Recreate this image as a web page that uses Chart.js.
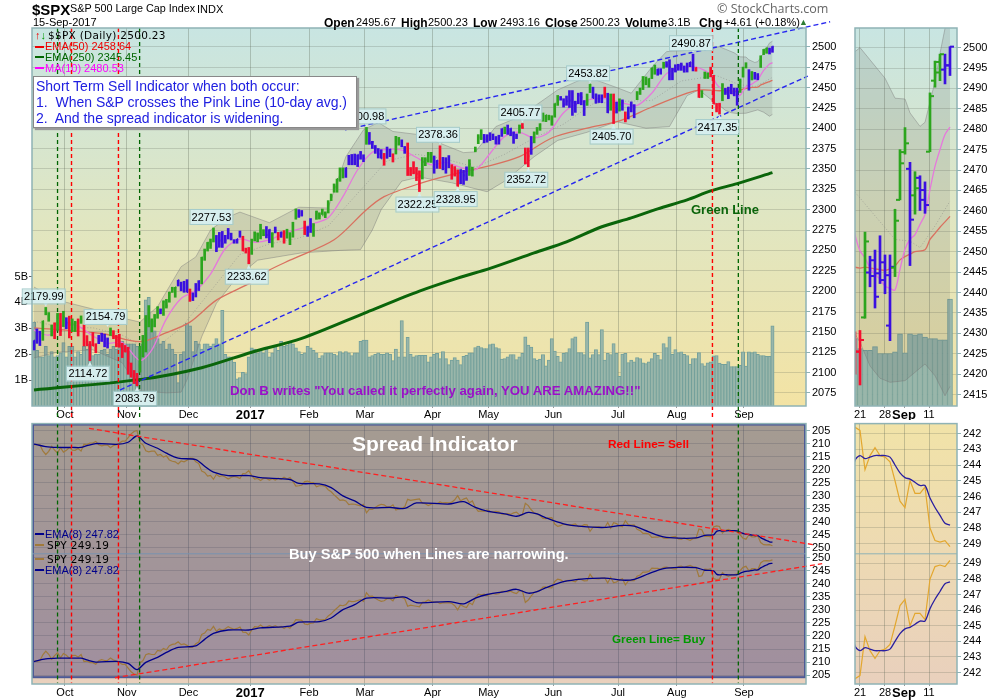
<!DOCTYPE html>
<html>
<head>
<meta charset="utf-8">
<title>$SPX</title>
<script src="https://cdn.jsdelivr.net/npm/chart.js@4/dist/chart.umd.min.js"></script>
<style>
html, body { margin: 0; padding: 0; background: #fff; overflow: hidden; }
body { width: 1000px; height: 700px; position: relative; font-family: "Liberation Sans", Arial, sans-serif; }
canvas { position: absolute; }
.t { position: absolute; white-space: pre; line-height: 1; font-size: 11px; color: #000; }
.b { font-weight: bold; font-size: 12px; }
.mk { position: absolute; width: 9px; height: 2px; }
#note { position: absolute; left: 33px; top: 76px; width: 324px; height: 52px; background: #fff; border: 1px solid #888;
  box-shadow: 2px 2px 1px #999; color: #2020e0; font-size: 14px; line-height: 16px; padding: 1px 0 0 2px; box-sizing: border-box; white-space: pre; }
</style>
</head>
<body>
<canvas id="mainChart" style="left:0;top:0" width="850" height="420"></canvas>
<canvas id="mainInset" style="left:850px;top:0" width="150" height="420"></canvas>
<canvas id="spreadChart" style="left:0;top:415px" width="850" height="285"></canvas>
<canvas id="spreadInset" style="left:850px;top:415px" width="150" height="285"></canvas>

<div class="t" style="left:32px;top:2px;font-size:15px;font-weight:bold">$SPX</div>
<div class="t" style="left:70px;top:3px;font-size:10.8px">S&amp;P 500 Large Cap Index</div>
<div class="t" style="left:197px;top:4px;font-size:11px">INDX</div>
<div class="t" style="left:33px;top:17px;font-size:11px">15-Sep-2017</div>
<div class="t" style="left:717px;top:3px;font-size:12.5px;color:#666;font-family:'Open Sans'">© StockCharts.com</div>

<div class="t b" style="left:324px;top:17px">Open</div><div class="t" style="left:356px;top:17px">2495.67</div>
<div class="t b" style="left:401px;top:17px">High</div><div class="t" style="left:428px;top:17px">2500.23</div>
<div class="t b" style="left:473px;top:17px">Low</div><div class="t" style="left:500px;top:17px">2493.16</div>
<div class="t b" style="left:545px;top:17px">Close</div><div class="t" style="left:580px;top:17px">2500.23</div>
<div class="t b" style="left:625px;top:17px">Volume</div><div class="t" style="left:668px;top:17px">3.1B</div>
<div class="t b" style="left:699px;top:17px">Chg</div><div class="t" style="left:724px;top:17px">+4.61 (+0.18%)</div>
<div class="t" style="left:799px;top:18px;font-size:9px;color:#2e7d32">▲</div>

<div class="t" style="left:35px;top:30px;font-size:11px;font-weight:bold;color:#e00">↑<span style="color:#090">↓</span></div>
<div class="t" style="left:48px;top:30px;font-family:'DejaVu Sans';font-size:10.5px;letter-spacing:.3px">$$PX (Daily) 2500.23</div>
<div class="mk" style="left:35px;top:46px;background:#e00"></div><div class="t" style="left:45px;top:41px;color:#e00">EMA(50) 2458.64</div>
<div class="mk" style="left:35px;top:56px;background:#060"></div><div class="t" style="left:45px;top:52px;color:#060">EMA(250) 2345.45</div>
<div class="mk" style="left:35px;top:67px;background:#f0f"></div><div class="t" style="left:45px;top:63px;color:#f0f">MA(10) 2480.53</div>
<div id="note">Short Term Sell Indicator when both occur:
1.  When S&amp;P crosses the Pink Line (10-day avg.)
2.  And the spread indicator is widening.</div>

<div class="t" style="left:691px;top:203px;font-size:13px;font-weight:bold;color:#0a640a">Green Line</div>
<div class="t" style="left:230px;top:384px;font-size:13.2px;font-weight:bold;color:#9a10c8">Don B writes "You called it perfectly again, YOU ARE AMAZING!!"</div>

<div class="t" style="left:352px;top:433px;font-size:21px;font-weight:bold;color:#fff">Spread Indicator</div>
<div class="t" style="left:608px;top:439px;font-size:11.8px;font-weight:bold;color:#f00">Red Line= Sell</div>
<div class="t" style="left:289px;top:547px;font-size:14.7px;font-weight:bold;color:#fff">Buy S&amp;P 500 when Lines are narrowing.</div>
<div class="t" style="left:612px;top:633px;font-size:11.7px;font-weight:bold;color:#090">Green Line= Buy</div>

<div class="mk" style="left:35px;top:533px;background:#00008b"></div><div class="t" style="left:45px;top:529px;color:#00008b">EMA(8) 247.82</div>
<div class="mk" style="left:35px;top:544px;background:#a07a3c"></div><div class="t" style="left:47px;top:540px;font-family:'DejaVu Sans';font-size:10.5px;letter-spacing:.3px">SPY 249.19</div>
<div class="mk" style="left:35px;top:558px;background:#a07a3c"></div><div class="t" style="left:47px;top:554px;font-family:'DejaVu Sans';font-size:10.5px;letter-spacing:.3px">SPY 249.19</div>
<div class="mk" style="left:35px;top:569px;background:#00008b"></div><div class="t" style="left:45px;top:565px;color:#00008b">EMA(8) 247.82</div>

<script>
// daily bars, Sep 16 2016 to Sep 15 2017, one line per month
var highs = [
    2139.2, 2153.6, 2150.8, 2163.3, 2179.99, 2173.7, 2158.5, 2161.1, 2172.7, 2172.7, 2175.3,
    2167.4, 2169.3, 2165.9, 2162.9, 2165.9, 2169.6, 2158.6, 2145.4, 2138.2, 2149.2, 2135.5, 2145.7, 2148.4, 2147.2, 2142.6, 2154.79, 2151.5, 2145.7, 2147.1, 2136.0, 2133.3,
    2131.1, 2111.8, 2102.6, 2099.1, 2132.0, 2145.7, 2170.1, 2182.3, 2166.0, 2171.4, 2180.8, 2178.2, 2188.1, 2189.9, 2198.7, 2204.8, 2204.7, 2213.4, 2211.1, 2212.1, 2214.1,
    2202.6, 2197.9, 2209.4, 2212.8, 2241.6, 2251.7, 2259.8, 2264.0, 2277.53, 2268.4, 2272.1, 2273.3, 2268.5, 2277.0, 2271.2, 2263.2, 2263.8, 2273.8, 2267.4, 2252.8, 2253.6,
    2263.9, 2272.8, 2271.5, 2282.1, 2275.5, 2279.3, 2275.5, 2271.8, 2278.7, 2272.1, 2272.6, 2274.3, 2276.0, 2271.8, 2284.6, 2300.9, 2300.0, 2299.0, 2286.0, 2279.1,
    2289.1, 2283.0, 2298.3, 2296.2, 2300.7, 2297.3, 2311.1, 2319.2, 2331.6, 2337.6, 2351.3, 2351.3, 2351.3, 2366.7, 2367.8, 2368.3, 2367.3, 2371.5, 2367.4,
    2400.98, 2394.8, 2383.9, 2378.8, 2375.1, 2373.6, 2369.1, 2376.9, 2374.4, 2368.6, 2390.0, 2388.7, 2385.7, 2377.6, 2381.9, 2351.8, 2358.9, 2351.8, 2347.7, 2364.0, 2363.8, 2370.4, 2370.4,
    2365.9, 2360.5, 2378.36, 2364.2, 2363.8, 2366.4, 2355.2, 2352.9, 2348.9, 2349.1, 2348.3, 2352.6, 2361.4, 2352.2, 2376.9, 2392.1, 2398.2, 2392.4, 2392.1,
    2394.5, 2392.9, 2389.8, 2391.4, 2399.3, 2401.4, 2403.9, 2399.7, 2395.5, 2392.9, 2404.0, 2405.77, 2375.7, 2375.7, 2389.9, 2395.5, 2400.9, 2405.6, 2418.7, 2416.0, 2416.0, 2415.3,
    2430.1, 2440.2, 2439.0, 2436.2, 2439.5, 2446.2, 2446.2, 2433.2, 2443.0, 2443.8, 2433.9, 2442.0, 2453.82, 2450.4, 2442.2, 2441.0, 2441.0, 2450.4, 2442.9, 2442.0, 2442.0, 2432.0,
    2436.1, 2434.8, 2420.0, 2426.0, 2432.3, 2429.0, 2445.0, 2449.3, 2463.5, 2462.9, 2460.9, 2473.8, 2477.6, 2472.5, 2473.1, 2481.0, 2481.7, 2484.0, 2473.5, 2477.9,
    2478.5, 2480.0, 2476.4, 2480.0, 2480.9, 2490.87, 2474.4, 2454.0, 2446.2, 2469.0, 2468.0, 2474.9, 2465.0, 2430.4, 2430.7, 2454.8, 2448.9, 2450.4, 2453.9, 2449.2, 2449.2, 2460.4, 2475.0,
    2480.4, 2471.9, 2469.6, 2468.6, 2467.1, 2488.9, 2496.7, 2498.4, 2498.4, 2500.23
];
var lows = [
    2127.8, 2135.9, 2133.2, 2139.6, 2170.9, 2163.0, 2145.0, 2141.6, 2151.8, 2145.4, 2156.5,
    2153.8, 2142.6, 2150.3, 2150.3, 2144.9, 2160.4, 2132.8, 2132.8, 2114.72, 2132.98, 2124.4, 2135.5, 2138.2, 2131.6, 2130.1, 2145.5, 2141.6, 2131.6, 2131.1, 2118.4, 2125.3,
    2097.9, 2094.4, 2086.5, 2083.79, 2100.6, 2119.1, 2125.3, 2156.1, 2149.9, 2156.1, 2166.7, 2172.2, 2170.2, 2179.2, 2186.4, 2198.4, 2192.5, 2206.3, 2200.4, 2198.6, 2198.8,
    2187.4, 2188.4, 2192.8, 2200.7, 2208.9, 2237.8, 2249.2, 2252.4, 2260.3, 2248.4, 2253.8, 2253.6, 2258.8, 2264.0, 2262.8, 2258.8, 2258.8, 2266.1, 2249.4, 2246.7, 2233.62,
    2245.1, 2261.6, 2260.5, 2264.1, 2268.0, 2265.3, 2259.4, 2254.0, 2271.5, 2262.8, 2266.0, 2258.8, 2265.0, 2257.0, 2266.2, 2288.3, 2290.5, 2292.1, 2269.4, 2267.2,
    2272.0, 2267.2, 2288.1, 2288.5, 2294.1, 2290.2, 2295.9, 2311.1, 2321.4, 2321.4, 2334.8, 2338.9, 2339.6, 2355.1, 2355.1, 2355.1, 2352.9, 2361.9, 2358.9,
    2380.2, 2380.2, 2375.1, 2369.1, 2363.4, 2363.1, 2354.5, 2363.0, 2365.0, 2358.5, 2368.3, 2379.2, 2377.1, 2369.1, 2341.9, 2341.9, 2344.0, 2335.7, 2322.25, 2337.6, 2354.0, 2358.3, 2358.0,
    2344.7, 2350.7, 2350.5, 2348.9, 2344.7, 2351.5, 2337.3, 2341.2, 2328.95, 2331.9, 2331.0, 2335.9, 2342.0, 2341.2, 2371.0, 2381.0, 2386.0, 2382.0, 2382.8,
    2384.8, 2385.9, 2380.4, 2380.4, 2389.9, 2393.3, 2392.4, 2390.7, 2381.4, 2387.2, 2393.9, 2399.7, 2356.2, 2352.72, 2367.9, 2382.0, 2392.4, 2397.4, 2408.5, 2408.0, 2410.1, 2403.6,
    2413.5, 2428.0, 2434.4, 2425.9, 2428.1, 2425.4, 2415.7, 2419.4, 2430.0, 2428.7, 2415.5, 2428.0, 2443.7, 2437.0, 2430.6, 2431.5, 2431.3, 2437.7, 2419.0, 2422.0, 2405.70, 2418.6,
    2421.0, 2422.0, 2407.7, 2411.3, 2420.0, 2412.8, 2435.0, 2441.4, 2447.4, 2453.3, 2450.3, 2460.9, 2466.2, 2465.0, 2466.3, 2473.6, 2474.9, 2459.3, 2459.4, 2468.9,
    2471.1, 2471.0, 2468.7, 2468.9, 2475.5, 2470.3, 2470.0, 2437.8, 2437.7, 2461.0, 2461.0, 2463.0, 2430.0, 2420.0, 2417.35, 2433.7, 2441.4, 2436.2, 2442.2, 2439.7, 2428.2, 2443.9, 2462.7,
    2473.9, 2446.6, 2459.2, 2460.1, 2459.4, 2474.5, 2490.3, 2491.9, 2491.1, 2493.16
];
var closes = [
    2139.16, 2139.12, 2139.76, 2163.12, 2177.18, 2164.69, 2146.10, 2159.93, 2171.37, 2151.13, 2168.27,
    2161.20, 2150.49, 2159.73, 2160.77, 2153.74, 2163.66, 2136.73, 2139.18, 2132.55, 2132.98, 2126.50, 2139.60, 2144.29, 2141.34, 2141.16, 2151.33, 2143.16, 2139.43, 2133.04, 2126.41, 2126.15,
    2111.72, 2097.94, 2088.66, 2085.18, 2131.52, 2139.56, 2163.26, 2167.48, 2164.45, 2164.20, 2180.39, 2176.94, 2187.12, 2181.90, 2198.18, 2202.94, 2204.72, 2213.35, 2201.72, 2204.66, 2198.81,
    2191.08, 2191.95, 2204.71, 2212.23, 2241.35, 2246.19, 2259.53, 2256.96, 2271.72, 2253.28, 2262.03, 2258.07, 2262.53, 2270.76, 2265.18, 2260.96, 2263.79, 2268.88, 2249.92, 2249.26, 2238.83,
    2257.83, 2270.75, 2269.00, 2276.98, 2268.90, 2268.90, 2275.32, 2270.44, 2274.64, 2267.89, 2271.89, 2263.69, 2271.31, 2265.20, 2280.07, 2298.37, 2296.68, 2294.69, 2280.90, 2278.87,
    2279.55, 2280.85, 2297.42, 2292.56, 2293.08, 2294.67, 2307.87, 2316.10, 2328.25, 2337.58, 2349.25, 2347.22, 2351.16, 2365.38, 2362.82, 2363.81, 2367.34, 2369.75, 2363.64,
    2395.96, 2381.92, 2383.12, 2375.31, 2368.39, 2362.98, 2364.87, 2372.60, 2373.47, 2365.45, 2385.26, 2381.38, 2378.25, 2373.47, 2344.02, 2348.45, 2345.96, 2343.98, 2341.59, 2358.57, 2361.13, 2368.06, 2362.72,
    2358.84, 2360.16, 2352.95, 2357.49, 2355.54, 2357.16, 2353.78, 2344.93, 2328.95, 2349.01, 2342.19, 2338.17, 2355.84, 2348.69, 2374.15, 2388.61, 2387.45, 2388.77, 2384.20,
    2388.33, 2391.17, 2388.13, 2389.52, 2399.29, 2399.38, 2396.92, 2399.63, 2394.44, 2390.90, 2402.32, 2400.67, 2357.03, 2365.72, 2381.73, 2394.02, 2398.42, 2404.39, 2415.07, 2415.82, 2412.91, 2411.80,
    2430.06, 2439.07, 2436.10, 2429.33, 2433.14, 2433.79, 2431.77, 2429.39, 2440.35, 2437.92, 2432.46, 2433.15, 2453.46, 2437.03, 2435.61, 2434.50, 2438.30, 2439.07, 2419.38, 2440.69, 2419.70, 2423.41,
    2429.01, 2432.54, 2409.75, 2425.18, 2427.43, 2425.53, 2443.25, 2447.83, 2459.27, 2459.14, 2460.61, 2473.83, 2473.45, 2472.54, 2469.91, 2477.13, 2477.83, 2475.42, 2472.10, 2470.30,
    2476.35, 2477.57, 2472.16, 2476.83, 2480.91, 2474.92, 2474.02, 2438.21, 2441.32, 2465.84, 2464.61, 2468.11, 2430.01, 2425.55, 2428.37, 2452.51, 2444.04, 2438.97, 2443.05, 2444.24, 2446.30, 2457.59, 2471.65,
    2476.55, 2457.85, 2465.54, 2465.10, 2461.43, 2488.11, 2496.48, 2498.37, 2495.62, 2500.23
];
// bar colour per day, g green, b blue, r red
var barColors = "bbbggggrgrg" +
    "brggrgrrrrr" + "bbbbgrrrrr" +
    "rrrr" + "ggggggg" + "b" + "ggggg" + "bbbb" +
    "rbbbggggg" + "bbbbbbbbb" + "rrr" +
    "gggggbbgbrbrggggbbrb" +
    "bggggggggggg" + "bbbbbbb" +
    "gbbbbbrbbrggbbrrrrrgggg" +
    "bbrbbbrrrbbbgggggbb" +
    "bbbbbgbbbbgrrrbggggggg" +
    "ggbbbbbbbbbggbbbbrbgrb" +
    "gbrbbbgggggggbbgbbbb" +
    "bbbbbbrrgggrrrrgbbbbbgg" +
    "gbgbbgggbb";
var volumes = [
    3.24, 2.15, 1.90, 1.90, 2.30, 1.95, 2.10, 1.90, 1.95, 2.05, 2.45,
    1.90, 2.30, 2.30, 1.90, 2.10, 2.00, 2.30, 2.20, 2.40, 1.95, 2.00, 2.00, 2.15, 2.20, 2.00, 2.20, 2.30, 2.20, 2.50, 2.50, 2.40,
    2.40, 2.40, 2.40, 2.30, 2.30, 2.40, 4.10, 4.20, 3.30, 2.90, 2.60, 2.40, 2.50, 2.20, 2.40, 2.20, 2.00, 0.90, 2.00, 2.10, 3.20,
    3.10, 2.10, 2.50, 2.40, 2.20, 2.40, 2.40, 2.30, 2.40, 2.60, 2.40, 3.70, 2.00, 1.90, 1.90, 1.70, 1.05, 1.10, 1.30, 1.25, 1.90,
    2.25, 2.20, 2.05, 2.20, 2.05, 2.20, 1.90, 2.05, 2.35, 2.15, 2.50, 2.30, 2.35, 2.50, 2.40, 2.25, 2.10, 2.00, 2.05, 2.30,
    2.25, 2.15, 2.05, 1.85, 1.95, 2.05, 2.05, 2.05, 2.00, 1.95, 2.10, 2.05, 2.10, 2.05, 1.95, 2.05, 2.05, 2.50, 2.55,
    2.55, 1.90, 1.95, 2.00, 2.05, 2.00, 2.00, 2.05, 2.00, 1.75, 2.20, 1.90, 3.30, 1.90, 2.65, 2.00, 1.90, 1.95, 1.96, 1.96, 1.96, 1.71, 1.90,
    2.00, 2.03, 1.83, 2.10, 1.83, 1.60, 1.77, 1.87, 1.77, 1.60, 1.92, 1.96, 2.05, 2.05, 2.26, 2.31, 2.26, 2.22, 2.22,
    2.37, 2.40, 2.26, 2.22, 1.81, 1.83, 1.90, 1.99, 1.99, 1.79, 1.90, 2.03, 2.67, 2.35, 2.28, 1.83, 1.77, 1.81, 1.99, 1.55, 1.77, 2.60,
    2.12, 1.92, 1.71, 2.03, 2.06, 2.22, 2.60, 2.67, 2.06, 2.06, 1.99, 3.24, 1.86, 1.99, 2.18, 1.99, 2.95, 1.77, 2.03, 1.99, 2.41, 2.03,
    1.15, 2.01, 2.03, 1.68, 1.77, 1.71, 1.87, 1.83, 1.67, 1.64, 1.71, 1.83, 2.03, 1.96, 1.79, 2.41, 2.26, 2.67, 2.00, 2.18,
    2.06, 2.09, 2.00, 1.95, 1.62, 1.83, 1.83, 2.06, 1.64, 1.55, 1.67, 1.71, 1.94, 1.95, 1.66, 1.61, 1.61, 1.72, 1.52, 1.52, 1.52, 1.57, 2.09,
    1.54, 2.09, 2.06, 2.09, 2.00, 1.95, 1.95, 1.92, 1.92, 3.10
];
// the overlays were read at these days
var ma10Days = [0, 5, 10, 15, 20, 25, 30, 36, 40, 45, 50, 55, 60, 65, 70, 75, 80, 85, 90, 95, 100, 105, 110, 115, 120, 125, 130, 135, 140, 145, 150, 155, 160, 165, 170, 175, 180, 185, 190, 195, 200, 205, 210, 215, 220, 225, 230, 232, 233, 234, 235, 236, 237, 238, 239, 240, 241, 242, 243, 244, 245, 246, 247, 248, 249, 250, 251];
var ma10Vals = [2152, 2146, 2158, 2157, 2145, 2136, 2137, 2115, 2127.6, 2166, 2191, 2201, 2221, 2252, 2264, 2260, 2263, 2271, 2276, 2283, 2290, 2316, 2349, 2370.5, 2374, 2373, 2364, 2355, 2358, 2352, 2349, 2369, 2390, 2395, 2388, 2395, 2419, 2431, 2436, 2436, 2431, 2428, 2443, 2467, 2474, 2475, 2466, 2454.2, 2450.2, 2448.5, 2446, 2444.5, 2443.2, 2441.6, 2441, 2440.6, 2445.7, 2450.6, 2453, 2454.2, 2456.7, 2459.1, 2465.2, 2470.9, 2475, 2478.7, 2480.53];
var ema50Days = [0, 23, 36, 45, 53, 62, 74, 79, 87, 102, 113, 119, 131, 142, 154, 165, 176, 188, 199, 210, 222, 227, 233, 234, 235, 236, 237, 238, 239, 240, 241, 242, 243, 244, 246, 247, 248, 249, 250, 251];
var ema50Vals = [2155, 2148, 2138, 2149, 2162, 2189, 2211, 2224, 2238, 2263, 2300, 2316, 2332, 2343, 2353, 2365, 2388, 2400, 2409, 2426, 2443, 2447, 2446, 2446.2, 2446, 2445.8, 2445.6, 2445.4, 2445.8, 2446.5, 2448, 2448.8, 2449.4, 2450, 2450.5, 2453, 2454.5, 2456, 2457.3, 2458.64];
var ema250Days = [0, 37, 57, 74, 91, 113, 131, 144, 155, 170, 181, 193, 203, 212, 222, 230, 239, 251];
var ema250Vals = [2078.6, 2092, 2106, 2125, 2142, 2174, 2200, 2216, 2228, 2247, 2260.5, 2279, 2290, 2301, 2312, 2323, 2332, 2345.45];
var bbUpperDays = [0, 8, 20, 30, 36, 42, 50, 55, 60, 66, 70, 80, 90, 100, 106, 112, 117, 122, 131, 137, 146, 150, 157, 165, 178, 188, 198, 203, 210, 215, 224, 232, 233, 235, 238, 240, 242, 243, 245, 246, 248, 249, 250, 251];
var bbUpperVals = [2205, 2189, 2178, 2167, 2162, 2181, 2230, 2242, 2275, 2291, 2297, 2284, 2303, 2302, 2365, 2398, 2407, 2396, 2392, 2383, 2370, 2371, 2402, 2414, 2447, 2463, 2450, 2443, 2475, 2494, 2496, 2499, 2500, 2497, 2492.5, 2487.6, 2487.4, 2484, 2480.7, 2481.7, 2491.7, 2498.6, 2504.7, 2506.8];
var bbLowerDays = [0, 8, 20, 30, 36, 45, 50, 52, 57, 62, 69, 76, 91, 104, 111, 115, 118, 125, 131, 142, 154, 160, 170, 178, 188, 198, 208, 216, 222, 226, 232, 233, 235, 237, 239, 242, 246, 248, 250, 251];
var bbLowerVals = [2118, 2125, 2128, 2112, 2078, 2075, 2076, 2091, 2144, 2185, 2217, 2238, 2247, 2250, 2251, 2275, 2300, 2335, 2340, 2333, 2322, 2335, 2365, 2385, 2395, 2408, 2400, 2402, 2440, 2447, 2429.8, 2427.8, 2422, 2419, 2418, 2418.4, 2422.5, 2419.6, 2414.7, 2417];
var bbMidDays = [0, 10, 20, 30, 40, 50, 60, 70, 80, 90, 100, 110, 120, 130, 140, 150, 160, 170, 180, 190, 200, 210, 220, 232, 240, 243, 245, 248, 251];
var bbMidVals = [2163, 2155, 2155, 2146, 2126, 2155, 2200, 2245, 2258, 2265, 2280, 2320, 2360, 2368, 2362, 2352, 2368, 2388, 2405, 2430, 2433, 2434, 2458, 2464.6, 2453, 2452.6, 2451, 2456.3, 2462.4];
var insetOpens = [2425.5, 2433.9, 2444.9, 2447.9, 2444.7, 2447.4, 2431.9, 2446.1, 2462.7, 2474.4, 2470.3, 2463.8, 2468.1, 2462.7, 2474.5, 2491.9, 2493.9, 2494.6, 2495.67];
var insetFirstDay = 233;

var spyVals = [
    210.4, 210.4, 210.5, 212.8, 214.2, 213.0, 211.1, 212.5, 213.6, 211.6, 213.3,
    212.6, 211.5, 212.5, 212.6, 211.9, 212.9, 210.2, 210.4, 209.8, 209.8, 209.2, 210.5, 210.9, 210.6, 210.6, 211.6, 210.8, 210.4, 209.8, 209.1, 209.1,
    207.7, 206.3, 205.4, 205.0, 209.7, 210.5, 212.8, 213.2, 212.9, 212.9, 214.5, 214.2, 215.2, 214.7, 216.3, 216.8, 217.0, 217.8, 216.7, 217.0, 216.4,
    215.6, 215.7, 217.0, 217.7, 220.6, 221.1, 222.5, 222.2, 223.7, 221.8, 222.7, 222.3, 222.8, 223.6, 223.0, 222.6, 222.9, 223.4, 221.5, 221.4, 220.4,
    222.3, 223.6, 223.4, 224.2, 223.4, 223.4, 224.0, 223.5, 224.0, 223.3, 223.7, 222.9, 223.6, 223.0, 224.5, 226.3, 226.2, 226.0, 224.6, 224.4,
    224.9, 225.0, 226.6, 226.2, 226.2, 226.4, 227.7, 228.5, 229.7, 230.7, 231.8, 231.6, 232.0, 233.4, 233.2, 233.3, 233.6, 233.9, 233.3,
    236.6, 235.2, 235.3, 234.5, 233.8, 233.3, 233.5, 234.3, 234.3, 233.5, 235.5, 235.1, 234.8, 234.3, 231.4, 231.8, 231.6, 231.4, 231.2, 232.9, 233.1, 233.8, 233.3,
    233.0, 233.1, 232.4, 232.8, 232.7, 232.8, 232.5, 231.6, 230.0, 232.0, 231.3, 230.9, 232.7, 232.0, 234.5, 236.0, 235.8, 236.0, 235.5,
    236.0, 236.3, 236.0, 236.2, 237.1, 237.1, 236.9, 237.2, 236.6, 236.3, 237.4, 237.3, 232.9, 233.8, 235.4, 236.6, 237.0, 237.6, 238.7, 238.8, 238.5, 238.4,
    240.9, 241.8, 241.5, 240.8, 241.2, 241.3, 241.1, 240.8, 241.9, 241.7, 241.1, 241.2, 243.7, 242.1, 242.0, 241.9, 242.2, 242.3, 240.3, 242.5, 240.4, 240.7,
    241.5, 241.9, 239.6, 241.1, 241.3, 241.2, 242.9, 243.4, 244.5, 244.5, 244.7, 246.0, 245.9, 245.9, 245.6, 246.3, 246.4, 246.1, 245.8, 245.6,
    246.6, 246.8, 246.2, 246.7, 247.1, 246.5, 246.4, 242.8, 243.1, 245.6, 245.5, 245.8, 242.0, 241.6, 241.8, 244.3, 243.4, 242.9, 243.4, 243.5, 243.8, 245.0, 246.3,
    246.7, 245.0, 245.8, 245.8, 245.4, 248.0, 248.8, 248.9, 248.8, 249.19
];
var ema8Days = [0, 4, 8, 13, 16, 18, 21, 28, 32, 35, 38, 42, 45, 49, 55, 58, 61, 66, 73, 77, 87, 90, 97, 101, 105, 109, 113, 121, 126, 130, 141, 146, 150, 154, 160, 164, 168, 171, 174, 180, 186, 194, 200, 204, 209, 214, 219, 225, 228, 231, 232, 233, 234, 235, 236, 237, 238, 239, 240, 241, 242, 243, 244, 245, 246, 247, 248, 249, 250, 251];
var ema8Vals = [210.2, 211.2, 211.5, 211.5, 211.5, 210.8, 210, 210.3, 209.5, 207.1, 209.9, 211.8, 213.7, 215.6, 216.2, 218.7, 221, 222.3, 222.3, 223.1, 223.8, 225.3, 225.5, 226.9, 230.1, 232, 234.5, 234.5, 234.9, 232.8, 233.2, 232.3, 234.5, 235.9, 237, 237.9, 236.4, 237, 238.5, 240.8, 241.8, 242.2, 241.4, 241.7, 243.9, 245.8, 246.3, 246.2, 245.2, 245, 243.7, 243.4, 243.6, 243.5, 243.4, 243.4, 243.4, 243.5, 244, 244.5, 244.8, 244.9, 245.1, 245.3, 245.3, 246.1, 246.7, 247.2, 247.7, 247.82];

var monthTicks = [10.5, 31.5, 52.5, 73.5, 93.5, 112.5, 135.5, 154.5, 176.5, 198.5, 218.5, 241.3];
var monthLabels = ["Oct", "Nov", "Dec", "2017", "Feb", "Mar", "Apr", "May", "Jun", "Jul", "Aug", "Sep"];
var insetTicks = [233, 238, 241.8, 246.8];
var insetLabels = ["21", "28", "Sep", "11"];
var priceTicks = [2075, 2100, 2125, 2150, 2175, 2200, 2225, 2250, 2275, 2300, 2325, 2350, 2375, 2400, 2425, 2450, 2475, 2500];
var insetPriceTicks = [2415, 2420, 2425, 2430, 2435, 2440, 2445, 2450, 2455, 2460, 2465, 2470, 2475, 2480, 2485, 2490, 2495, 2500];
var volumeTicks = [1, 2, 3, 4, 5];
var spreadTicks = [205, 210, 215, 220, 225, 230, 235, 240, 245, 250];
var spreadInsetTicks = [242, 243, 244, 245, 246, 247, 248, 249];

// pivot labels: day, value, 1 = above the bar, -1 = below
var pivotDays = [4, 19, 25, 35, 61, 73, 113, 131, 138, 144, 166, 168, 189, 197, 224, 233];
var pivotVals = [2179.99, 2114.72, 2154.79, 2083.79, 2277.53, 2233.62, 2400.98, 2322.25, 2378.36, 2328.95, 2405.77, 2352.72, 2453.82, 2405.70, 2490.87, 2417.35];
var pivotSides = [1, -1, 1, -1, 1, -1, 1, -1, 1, -1, 1, -1, 1, -1, 1, -1];

var redDays = [12.75, 28.7, 230.6];
var greenDays = [8, 35.9, 239.4];

const FONT = '"Liberation Sans", Arial, sans-serif';
const COLORS = { g: "#2ca51e", b: "#3a10e0", r: "#f5102f" };
const GRID = "rgba(85,95,80,0.22)";
const FRAME = "#8fb3b5";

function pts(days, vals) {
    return days.map((d, i) => ({ x: d, y: vals[i] }));
}
function allDays(vals) {
    return vals.map((v, i) => ({ x: i, y: v }));
}
function lineSet(data, color, width, yAxisID, order, extra) {
    return Object.assign({
        type: "line", data: data, borderColor: color, borderWidth: width, pointRadius: 0,
        tension: 0, fill: false, yAxisID: yAxisID, order: order
    }, extra || {});
}
function dashed(days, vals, color, width, yAxisID, dash) {
    return lineSet(pts(days, vals), color, width, yAxisID, 1, { borderDash: dash || [5, 3], clip: false });
}

function backgroundPlugin(stops) {
    return {
        id: "panelBackground",
        beforeDraw: function (chart) {
            var a = chart.chartArea;
            var g = chart.ctx.createLinearGradient(0, a.top, 0, a.bottom);
            stops.forEach((s, i) => g.addColorStop(i / (stops.length - 1), s));
            chart.ctx.fillStyle = g;
            chart.ctx.fillRect(a.left, a.top, a.right - a.left, a.bottom - a.top);
        }
    };
}
var framePlugin = {
    id: "panelFrame",
    afterDraw: function (chart) {
        var a = chart.chartArea;
        chart.ctx.strokeStyle = FRAME;
        chart.ctx.lineWidth = 1.5;
        chart.ctx.strokeRect(a.left, a.top, a.right - a.left, a.bottom - a.top);
    }
};
// open and close ticks on the bars, open only where we have it
function ohlcPlugin(tickLen, useOpens) {
    return {
        id: "ohlcTicks",
        afterDatasetsDraw: function (chart) {
            var x = chart.scales.x, y = chart.scales.y, ctx = chart.ctx, a = chart.chartArea;
            ctx.save();
            ctx.beginPath();
            ctx.rect(a.left, a.top, a.right - a.left, a.bottom - a.top);
            ctx.clip();
            closes.forEach((c, i) => {
                if (i < x.min - 1) return;
                ctx.fillStyle = COLORS[barColors[i]];
                ctx.fillRect(x.getPixelForValue(i), y.getPixelForValue(c) - 1, tickLen + 1, 2);
                if (useOpens && i >= insetFirstDay) {
                    ctx.fillRect(x.getPixelForValue(i) - tickLen - 1, y.getPixelForValue(insetOpens[i - insetFirstDay]) - 1, tickLen + 1, 2);
                }
            });
            ctx.restore();
        }
    };
}
var pivotPlugin = {
    id: "pivotLabels",
    afterDatasetsDraw: function (chart) {
        var x = chart.scales.x, y = chart.scales.y, ctx = chart.ctx;
        ctx.save();
        ctx.font = "11px " + FONT;
        ctx.textAlign = "center";
        ctx.textBaseline = "middle";
        pivotDays.forEach((d, i) => {
            var px = x.getPixelForValue(d), py = y.getPixelForValue(pivotVals[i]);
            var side = pivotSides[i];
            var cy = py - side * (side > 0 ? 11 : 13);
            ctx.fillStyle = "#d6eeee";
            ctx.beginPath();
            ctx.moveTo(px, py - side);
            ctx.lineTo(px - 6, cy);
            ctx.lineTo(px + 6, cy);
            ctx.fill();
            ctx.fillRect(px - 23, cy - 7, 42, 14);
            ctx.strokeStyle = "#a5cccc";
            ctx.lineWidth = 1;
            ctx.strokeRect(px - 23.5, cy - 7.5, 43, 15);
            ctx.fillStyle = "#000";
            ctx.fillText(pivotVals[i].toFixed(2), px - 2, cy + 0.5);
        });
        ctx.restore();
    }
};
// the see-through box over the spread panel, with its floor on the lower axis
var tintPlugin = {
    id: "spreadTint",
    beforeDatasetsDraw: function (chart) {
        var a = chart.chartArea, ctx = chart.ctx;
        var floor = chart.scales.yBot.getPixelForValue(204.2);
        ctx.fillStyle = "rgba(35,32,109,0.37)";
        ctx.fillRect(a.left, a.top, a.right - a.left, floor - a.top);
        ctx.strokeStyle = "#4d5a96";
        ctx.lineWidth = 2;
        ctx.strokeRect(a.left + 1, a.top + 1, a.right - a.left - 2, floor - a.top - 1);
    }
};

function xAxis(min, max, ticks, labels, boldLabel, height) {
    return {
        type: "linear", min: min, max: max, offset: false,
        afterBuildTicks: function (axis) { axis.ticks = ticks.map(v => ({ value: v })); },
        afterFit: function (axis) { axis.height = height; },
        grid: { offset: false, color: "rgba(85,95,80,0.3)", drawTicks: true, tickLength: 2, tickColor: "#999" },
        border: { display: false },
        ticks: {
            autoSkip: false, maxRotation: 0, padding: 0, color: "#000",
            callback: function (v, i) { return labels[i]; },
            font: function (c) {
                var bold = labels[c.index] === boldLabel;
                return { family: FONT, size: bold ? 13 : 11, weight: bold ? "bold" : "normal" };
            }
        }
    };
}
function yAxis(position, min, max, ticks, width, extra) {
    return Object.assign({
        type: "linear", position: position, min: min, max: max,
        afterBuildTicks: function (axis) { axis.ticks = ticks.map(v => ({ value: v })); },
        afterFit: function (axis) { axis.width = width; },
        grid: { color: GRID, tickLength: 4, tickColor: FRAME },
        border: { display: false },
        ticks: { autoSkip: false, padding: 2, color: "#000", font: { family: FONT, size: 11 }, callback: v => String(v) }
    }, extra || {});
}
function priceDatasets(barWidth, volBar) {
    var sets = [
        {
            type: "bar", data: highs.map((h, i) => ({ x: i, y: [lows[i], h] })), yAxisID: "y", order: 0, grouped: false,
            barThickness: barWidth, backgroundColor: highs.map((h, i) => COLORS[barColors[i]])
        },
        lineSet(pts(ema250Days, ema250Vals), "#0a650a", 3, "y", 2, { tension: 0.3 }),
        lineSet(pts(ma10Days, ma10Vals), "#e678dc", 1.3, "y", 3, { tension: 0.3 }),
        lineSet(pts(ema50Days, ema50Vals), "#d9705f", 1.3, "y", 3, { tension: 0.3 }),
        lineSet(pts(bbMidDays, bbMidVals), "rgba(130,130,130,0.5)", 1, "y", 4, { borderDash: [1, 2] }),
        lineSet(pts(bbUpperDays, bbUpperVals), "rgba(125,125,125,0.45)", 1, "y", 5, { fill: "+1", backgroundColor: "rgba(90,90,90,0.15)" }),
        lineSet(pts(bbLowerDays, bbLowerVals), "rgba(125,125,125,0.45)", 1, "y", 5),
        {
            type: "bar", data: allDays(volumes), yAxisID: "yVol", order: 6, grouped: false,
            barThickness: volBar, backgroundColor: "#99b6aa", borderColor: "#74a09b", borderWidth: 1
        }
    ];
    return sets;
}
function spreadDatasets(spyColor, emaColor) {
    return [
        lineSet(allDays(spyVals), spyColor, 1.2, "yTop", 3),
        lineSet(pts(ema8Days, ema8Vals), emaColor, 1.3, "yTop", 2, { tension: 0.3 }),
        lineSet(allDays(spyVals), spyColor, 1.2, "yBot", 3),
        lineSet(pts(ema8Days, ema8Vals), emaColor, 1.3, "yBot", 2, { tension: 0.3 })
    ];
}
function baseOptions(padding) {
    return {
        responsive: false, animation: false, devicePixelRatio: 1,
        events: [],
        layout: { padding: padding },
        plugins: { legend: { display: false }, tooltip: { enabled: false }, title: { display: false } }
    };
}

// price panel
var mainSets = priceDatasets(2, 3.3);
redDays.forEach(d => mainSets.push(dashed([d, d], [2523, 2041.8], "#ff0000", 1.4, "y", [4, 3])));
greenDays.forEach(d => mainSets.push(dashed([d, d], [2523, 2041.8], "#006400", 1.3, "y", [4, 3])));
mainSets.push(dashed([105.7, 270.6], [2398, 2530.7], "#2626f0", 1.4, "y"));
mainSets.push(dashed([29.2, 263], [2078.6, 2464], "#2626f0", 1.4, "y"));

new Chart("mainChart", {
    data: { datasets: mainSets },
    options: Object.assign(baseOptions({ top: 28 }), {
        scales: {
            x: xAxis(-0.68, 262.4, monthTicks, monthLabels, "2017", 14),
            y: yAxis("right", 2059, 2523, priceTicks, 44),
            yVol: yAxis("left", 0, 14.6, volumeTicks, 32, {
                grid: { display: true, drawOnChartArea: false, tickLength: 3, tickColor: "#666" },
                ticks: { autoSkip: false, padding: 1, color: "#000", font: { family: FONT, size: 11 }, callback: v => v + "B" }
            })
        }
    }),
    plugins: [backgroundPlugin(["#c8e5e2", "#e0e6c2", "#f3e3a4"]), ohlcPlugin(0, false), pivotPlugin, framePlugin]
});

new Chart("mainInset", {
    data: { datasets: priceDatasets(2, 5) },
    options: Object.assign(baseOptions({ top: 28, left: 5 }), {
        scales: {
            x: xAxis(232, 252.4, insetTicks, insetLabels, "Sep", 14),
            y: yAxis("right", 2412.2, 2504.8, insetPriceTicks, 43),
            yVol: yAxis("left", 0, 10.95, [], 0, { display: false })
        }
    }),
    plugins: [backgroundPlugin(["#c8e5e2", "#e0e6c2", "#f3e3a4"]), ohlcPlugin(3, true), framePlugin]
});

// spread panel, two mirrored halves
var spreadSets = spreadDatasets("#a07a3c", "#00008b");
redDays.forEach(d => spreadSets.push(dashed([d, d], [202.35, 302], "#ff0000", 1.4, "yTop", [4, 3])));
greenDays.forEach(d => spreadSets.push(dashed([d, d], [202.35, 302], "#006400", 1.3, "yTop", [4, 3])));
spreadSets.push(dashed([18.7, 265.5], [204.2, 248.9], "#ff2020", 1.3, "yTop"));
spreadSets.push(dashed([27.5, 267.9], [204, 247.7], "#ff2020", 1.3, "yBot"));
spreadSets.push(lineSet(pts([-0.68, 262.4], [252.3, 252.3]), "#7893b0", 1, "yTop", 1, { clip: false }));

new Chart("spreadChart", {
    data: { datasets: spreadSets },
    options: Object.assign(baseOptions({ top: 5, left: 32 }), {
        scales: {
            x: xAxis(-0.68, 262.4, monthTicks, monthLabels, "2017", 16),
            yTop: yAxis("right", 202.35, 252.3, spreadTicks, 44, { reverse: true, stack: "spread", stackWeight: 1, weight: 1 }),
            yBot: yAxis("right", 201.6, 251.5, spreadTicks, 44, { stack: "spread", stackWeight: 1, weight: 2 })
        }
    }),
    plugins: [backgroundPlugin(["#f1e3a8", "#e9d0bd"]), tintPlugin, framePlugin]
});

var insetSets = spreadDatasets("#e3a72f", "#2a1fa0");
insetSets.push(lineSet(pts([232, 252.4], [249.64, 249.64]), FRAME, 1, "yTop", 1, { clip: false }));
new Chart("spreadInset", {
    data: { datasets: insetSets },
    options: Object.assign(baseOptions({ top: 5, left: 5 }), {
        scales: {
            x: xAxis(232, 252.4, insetTicks, insetLabels, "Sep", 16),
            yTop: yAxis("right", 241.37, 249.64, spreadInsetTicks, 43, { reverse: true, stack: "spread", stackWeight: 1, weight: 1 }),
            yBot: yAxis("right", 241.26, 249.62, spreadInsetTicks, 43, { stack: "spread", stackWeight: 1, weight: 2 })
        }
    }),
    plugins: [backgroundPlugin(["#f1e3a8", "#e9d0bd"]), framePlugin]
});
</script>
</body>
</html>
